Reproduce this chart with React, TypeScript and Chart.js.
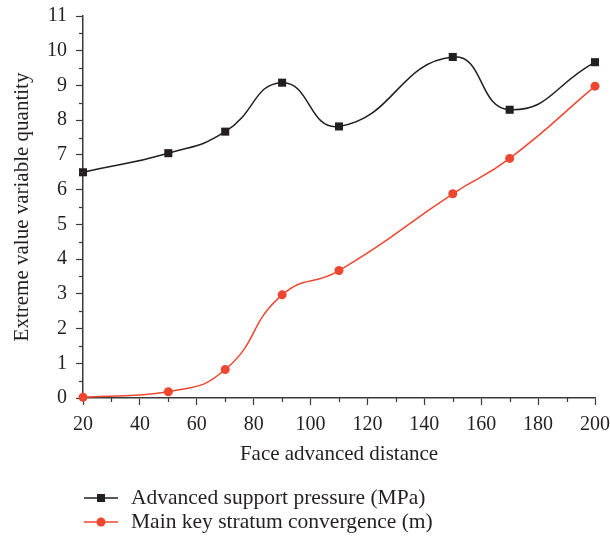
import React, { useEffect, useRef } from "react";
import { Chart, registerables } from "chart.js";

Chart.register(...registerables);

const distances = [20, 50, 70, 90, 110, 150, 170, 200];
const supportPressure = [6.5, 7.05, 7.67, 9.08, 7.82, 9.82, 8.3, 9.67];
const convergence = [0.02, 0.18, 0.82, 2.97, 3.67, 5.88, 6.9, 8.98];
const seriesLabels = ["Advanced support pressure (MPa)", "Main key stratum convergence (m)"];
const xTitle = "Face advanced distance";
const yTitle = "Extreme value variable quantity";

const FONT = "'Liberation Serif', 'Times New Roman', serif";
const BLACK = "#231f20";
const RED = "#ef4630";
const AXIS = "#3a3a3a";
const TEXT = "#231f20";

const minorTicks = {
  id: "minorTicks",
  afterDraw(chart: any) {
    const ctx = chart.ctx;
    const xs = chart.scales.x;
    const ys = chart.scales.y;
    ctx.save();
    ctx.strokeStyle = AXIS;
    ctx.lineWidth = 1.2;
    for (let v = 30; v < 200; v += 20) {
      const px = Math.round(xs.getPixelForValue(v)) + 0.5;
      ctx.beginPath();
      ctx.moveTo(px, xs.top);
      ctx.lineTo(px, xs.top + 4);
      ctx.stroke();
    }
    for (let v = 0.5; v < 11; v += 1) {
      const py = Math.round(ys.getPixelForValue(v)) + 0.5;
      ctx.beginPath();
      ctx.moveTo(ys.right, py);
      ctx.lineTo(ys.right - 4, py);
      ctx.stroke();
    }
    ctx.restore();
  },
};

const customLegend = {
  id: "customLegend",
  afterDraw(chart: any) {
    const ctx = chart.ctx;
    ctx.save();
    const rows = [
      { label: seriesLabels[0], color: BLACK, style: "rect", y: 498 },
      { label: seriesLabels[1], color: RED, style: "circle", y: 522 },
    ];
    rows.forEach((r) => {
      ctx.strokeStyle = r.color;
      ctx.fillStyle = r.color;
      ctx.lineWidth = 1.5;
      ctx.beginPath();
      ctx.moveTo(84, r.y);
      ctx.lineTo(118, r.y);
      ctx.stroke();
      if (r.style === "rect") {
        ctx.fillRect(97, r.y - 4, 8, 8);
      } else {
        ctx.beginPath();
        ctx.arc(101, r.y, 4.5, 0, Math.PI * 2);
        ctx.fill();
      }
      ctx.fillStyle = TEXT;
      ctx.font = `21.5px ${FONT}`;
      ctx.textBaseline = "middle";
      ctx.textAlign = "left";
      ctx.fillText(r.label, 131, r.y);
    });
    ctx.restore();
  },
};

export default function App() {
  const ref = useRef<HTMLCanvasElement>(null);
  useEffect(() => {
    document.body.style.margin = "0";
    const chart = new Chart(ref.current as HTMLCanvasElement, {
      type: "line",
      data: {
        datasets: [
          {
            label: seriesLabels[0],
            data: distances.map((x, i) => ({ x, y: supportPressure[i] })),
            borderColor: BLACK,
            backgroundColor: BLACK,
            borderWidth: 1.5,
            pointStyle: "rect",
            pointRadius: 5.7,
            pointBorderWidth: 0,
            tension: 0.5,
            clip: false,
          },
          {
            label: seriesLabels[1],
            data: distances.map((x, i) => ({ x, y: convergence[i] })),
            borderColor: RED,
            backgroundColor: RED,
            borderWidth: 1.5,
            pointStyle: "circle",
            pointRadius: 4.5,
            pointBorderWidth: 0,
            tension: 0.5,
            clip: false,
          },
        ],
      },
      options: {
        animation: false,
        responsive: false,
        maintainAspectRatio: false,
        layout: { padding: { top: 16, right: 15, left: 0, bottom: 0 } },
        plugins: { legend: { display: false }, tooltip: { enabled: false } },
        scales: {
          x: {
            type: "linear",
            min: 20,
            max: 200,
            border: { display: true, color: AXIS, width: 1.5 },
            grid: { drawOnChartArea: false, color: AXIS, tickColor: AXIS, tickLength: 7, tickWidth: 1.2 },
            ticks: { stepSize: 20, color: TEXT, font: { family: FONT, size: 20 }, padding: 8, maxRotation: 0 },
            title: { display: true, text: xTitle, color: TEXT, font: { family: FONT, size: 21 }, padding: { top: 0, bottom: 70 } },
            afterFit: (s: any) => { s.height = 537 - 398; s.paddingRight = 0; s.paddingLeft = 0; },
          },
          y: {
            type: "linear",
            min: 0,
            max: 11,
            border: { display: true, color: AXIS, width: 1.5 },
            grid: { drawOnChartArea: false, color: AXIS, tickColor: AXIS, tickLength: 7, tickWidth: 1.2 },
            ticks: { stepSize: 1, color: TEXT, font: { family: FONT, size: 20 }, padding: 9 },
            title: { display: true, text: yTitle, color: TEXT, font: { family: FONT, size: 21 }, padding: { top: 10, bottom: 0 } },
            afterFit: (s: any) => { s.width = 83; s.paddingTop = 0; s.paddingBottom = 0; },
          },
        },
      },
      plugins: [minorTicks, customLegend],
    } as any);
    return () => chart.destroy();
  }, []);
  return (
    <div style={{ position: "absolute", left: 0, top: 0, width: 610, height: 537 }}>
      <canvas ref={ref} width={610} height={537} style={{ width: 610, height: 537 }} />
    </div>
  );
}
